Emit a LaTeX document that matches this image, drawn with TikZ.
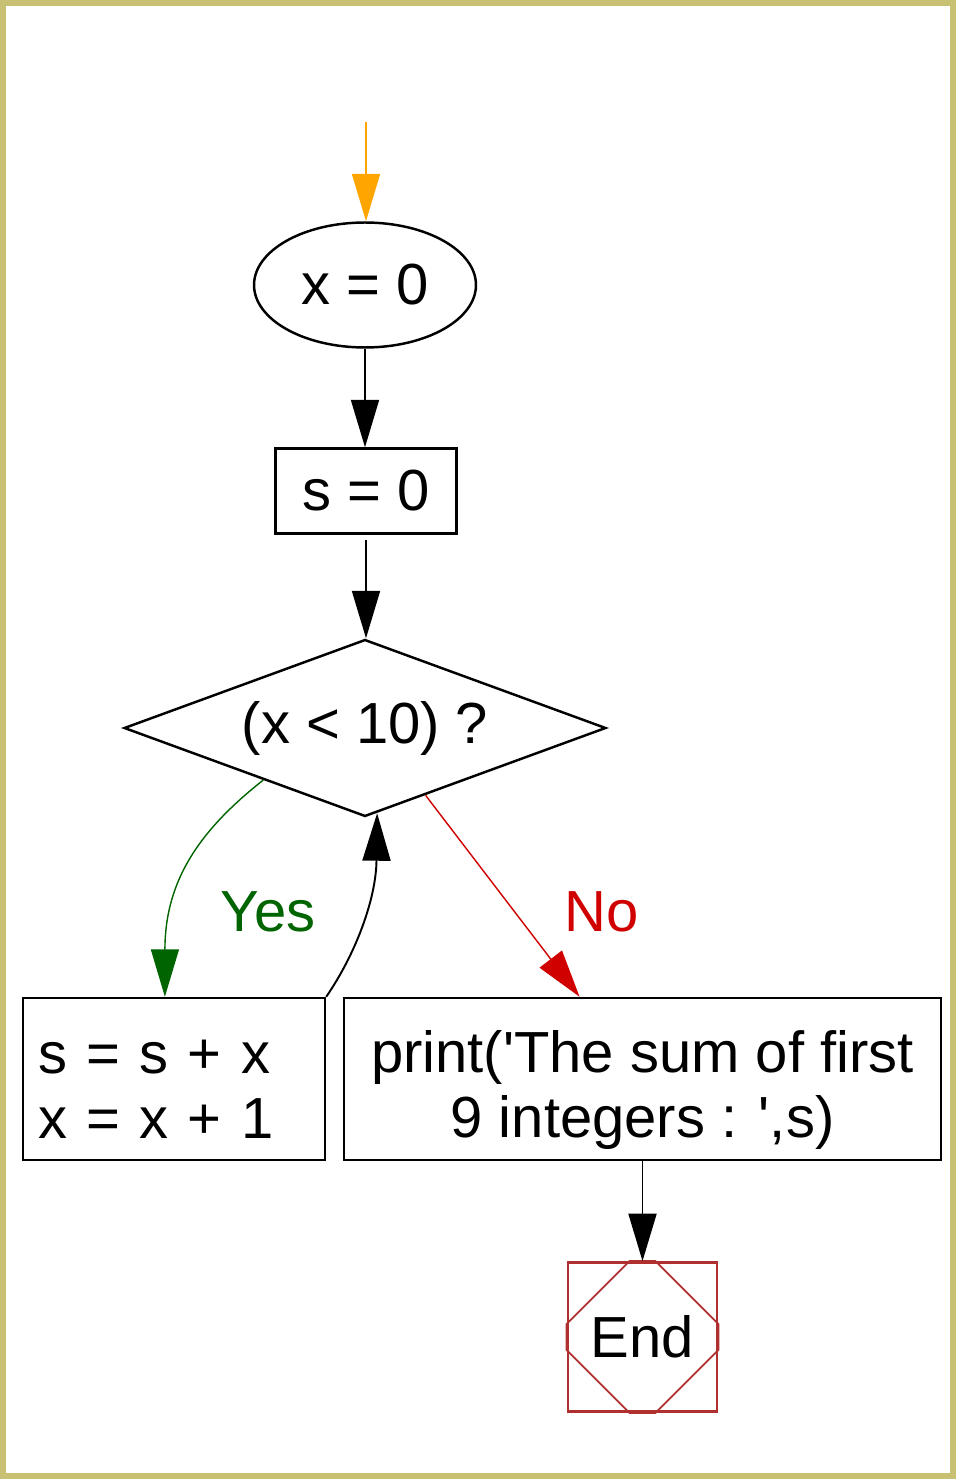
\documentclass[tikz,border=0pt]{standalone}
\usepackage{fontspec}
\setmainfont{Liberation Sans}
\usetikzlibrary{arrows.meta, shapes.geometric, calc}
\definecolor{cframe}{HTML}{C8C072}
\definecolor{corange}{HTML}{FFA500}
\definecolor{cgreen}{HTML}{006400}
\definecolor{cred}{HTML}{D00000}
\definecolor{cend}{HTML}{B03030}
\tikzset{
  every picture/.style={font=\fontsize{33}{37}\selectfont, line width=1.4pt},
  box/.style={draw=black, rectangle, minimum height=3.24cm, inner sep=0pt, align=center},
  arr/.style={-{Triangle[length=0.95cm, width=0.56cm]}, draw=#1, line width=1.1pt},
  arr/.default=black,
}

\begin{document}
\begin{tikzpicture}[x=0.02cm, y=-0.02cm]
  \useasboundingbox (0,0) rectangle (956,1479);
  \draw[cframe, line width=0.12cm] (3,3) rectangle (953,1476);
  % nodes of the flow
  \coordinate (entry) at (366,122);
  \node[ellipse, draw, minimum width=4.44cm, minimum height=2.5cm, inner sep=0pt] (ini) at (365,285) {x = 0};
  \node[box, minimum width=3.62cm, minimum height=1.7cm] (sum) at (366,491) {s = 0};
  \node[diamond, draw, minimum width=9.64cm, minimum height=3.54cm, aspect=2.7, inner sep=0pt] (test) at (365,728) {(x < 10) ?};
  \node[box, minimum width=6.04cm, text width=5.44cm, align=left] (loop) at (174,1079) {\rule{0pt}{1.08cm}s = s + x\\x = x + 1};
  \node[box, minimum width=11.94cm] (out) at (642.5,1079) {\rule{0pt}{1.3cm}print(\textquotesingle The sum of first\\9 integers : \textquotesingle,s)};
  \node[draw=cend, minimum size=2.98cm, inner sep=0pt, line width=1.6pt] (stop) at (642.5,1337) {End};
  \draw[cend, line width=1pt] ($(stop.north)+(-13,0)$) -- ($(stop.west)+(0,-13)$) -- ($(stop.west)+(0,13)$)
    -- ($(stop.south)+(-13,0)$) -- ($(stop.south)+(13,0)$) -- ($(stop.east)+(0,13)$)
    -- ($(stop.east)+(0,-13)$) -- ($(stop.north)+(13,0)$) -- cycle;
  % labels
  \node[text=cgreen] (yes) at (268,912) {Yes};
  \node[text=cred] (no) at (602,912) {No};
  % connectors
  \draw[arr=corange] (entry) -- (entry |- ini.north);
  \draw[arr] (ini.south) -- (ini.south |- sum.north);
  \draw[arr] ($(sum.south)+(0,5)$) -- (sum.south |- test.north);
  \draw[arr=cgreen, line width=0.8pt] ($(test.west)!0.58!(test.south)$) .. controls (200,830) and (165,880) .. ($(loop.north west)!0.47!(loop.north east)$);
  \draw[arr] (loop.north east) .. controls (355,955) and (376,900) .. ($(test.south)!0.05!(test.east)$);
  \draw[arr=cred, line width=0.8pt] ($(test.south)!0.25!(test.east)$) -- ($(out.north west)!0.395!(out.north east)$);
  \draw[arr] (out) -- (stop);
\end{tikzpicture}
\end{document}
